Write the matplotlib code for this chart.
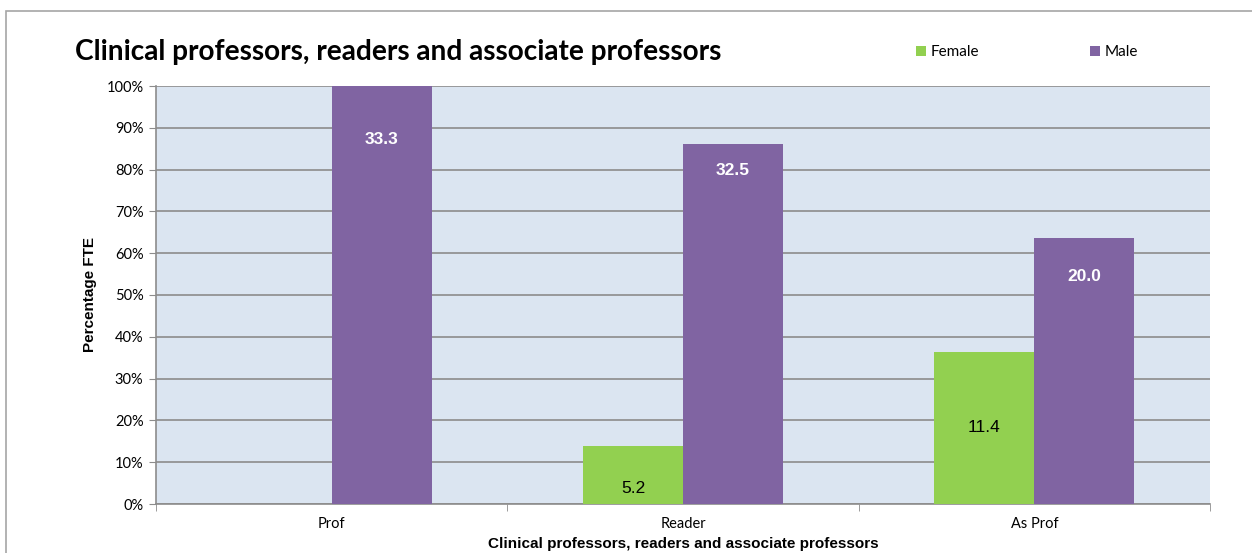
import numpy as np
import matplotlib
matplotlib.use("Agg")
import matplotlib.pyplot as plt
from matplotlib.patches import Rectangle

# data
categories = ["Prof", "Reader", "As Prof"]
female_pct = [0.0, 13.8, 36.3]
male_pct = [100.0, 86.2, 63.7]
female_fte = [None, "5.2", "11.4"]
male_fte = ["33.3", "32.5", "20.0"]

# where the value labels sit (in % on the y axis), as in the original
female_label_y = [None, 3.8, 18.2]
male_label_y = [87.1, 79.9, 54.5]

FEMALE_COL = "#92D050"
MALE_COL = "#8064A2"
BG_COL = "#DBE5F1"
GRID_COL = "#8C8C8C"
UI_FONT = "Lato"

W, H = 1252, 553
fig = plt.figure(figsize=(W / 100, H / 100), dpi=100)

# outer chart border
fig.patches.append(Rectangle((6 / W, -0.02), 1.1, (H - 11) / H + 0.02,
                             transform=fig.transFigure, fill=False,
                             edgecolor="#A6A6A6", linewidth=1.2))

ax = fig.add_axes([156 / W, (H - 504) / H, (1210 - 156) / W, (504 - 86) / H])
ax.set_facecolor(BG_COL)

x = np.arange(len(categories))
bw = 0.285
ax.bar(x - bw / 2, female_pct, bw, color=FEMALE_COL, label="Female", zorder=3)
ax.bar(x + bw / 2, male_pct, bw, color=MALE_COL, label="Male", zorder=3)

for i in range(len(categories)):
    if female_fte[i] is not None:
        ax.text(x[i] - bw / 2, female_label_y[i], female_fte[i], ha="center",
                va="center", fontsize=12.5, color="black",
                family="Liberation Sans", zorder=4)
    ax.text(x[i] + bw / 2, male_label_y[i], male_fte[i], ha="center",
            va="center", fontsize=12.5, color="white", fontweight="bold",
            family="Liberation Sans", zorder=4)

ax.set_xlim(-0.5, len(categories) - 0.5)
ax.set_ylim(0, 100)
ax.set_yticks(np.arange(0, 101, 10))
ax.set_yticklabels([f"{v}%" for v in range(0, 101, 10)], family=UI_FONT,
                   fontsize=10.5)
ax.yaxis.grid(True, color=GRID_COL, linewidth=1.2, zorder=1)
ax.set_axisbelow(True)

ax.set_xticks(x)
ax.set_xticklabels(categories, family=UI_FONT, fontsize=10.5)
ax.tick_params(axis="x", length=0, pad=9)
ax.set_xticks(np.arange(-0.5, len(categories), 1), minor=True)
ax.tick_params(axis="x", which="minor", length=5, color=GRID_COL, direction="out")
ax.tick_params(axis="y", length=5, color=GRID_COL, pad=4)

for s in ["top", "right"]:
    ax.spines[s].set_visible(False)
ax.spines["left"].set_color(GRID_COL)
ax.spines["bottom"].set_color(GRID_COL)
ax.spines["left"].set_linewidth(1.2)
ax.spines["bottom"].set_linewidth(1.2)

ax.set_ylabel("Percentage FTE", family="Liberation Sans", fontweight="bold",
              fontsize=11, labelpad=7)
ax.set_xlabel("Clinical professors, readers and associate professors",
              family="Liberation Sans", fontweight="bold", fontsize=11,
              labelpad=5)

fig.text(75 / W, 1 - 52 / H, "Clinical professors, readers and associate professors",
         family=UI_FONT, fontweight="bold", fontsize=20.2, va="center", ha="left")

leg = ax.legend(loc="center", bbox_to_anchor=(1027 / W, 1 - 52 / H),
                bbox_transform=fig.transFigure, ncol=2, frameon=False,
                prop={"family": UI_FONT, "size": 11}, handlelength=0.65,
                handleheight=0.65, handletextpad=0.3, columnspacing=7.3)

fig.savefig("out.png", dpi=100)
